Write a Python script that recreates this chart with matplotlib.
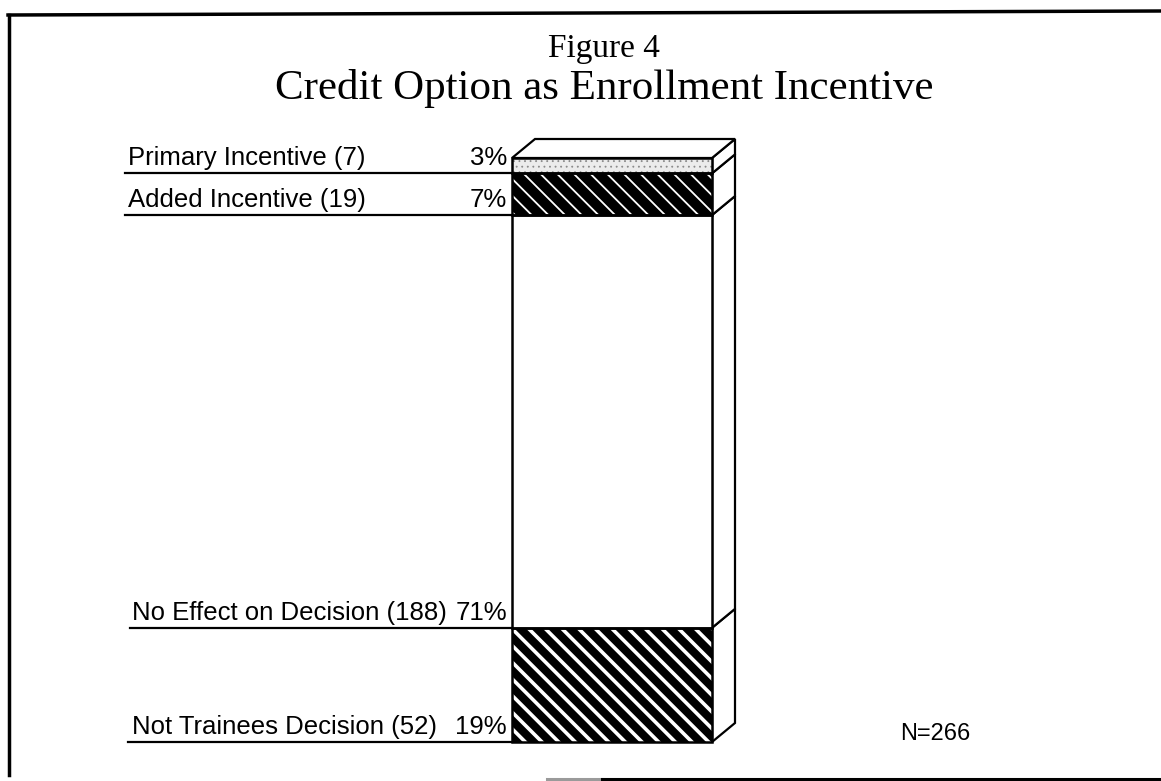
import matplotlib
matplotlib.use("Agg")
import matplotlib.pyplot as plt
from matplotlib import transforms
from matplotlib.patches import Polygon
from matplotlib.lines import Line2D

# ---- data ----
categories = ["Not Trainees Decision", "No Effect on Decision", "Added Incentive", "Primary Incentive"]
counts = [52, 188, 19, 7]
percents = [19, 71, 7, 3]
n_total = 266
title_top = "Figure 4"
title_main = "Credit Option as Enrollment Incentive"

# ---- styles (per segment, bottom to top) ----
faces = ["black", "white", "black", "#ececec"]
hatches = ["\\\\", None, "\\\\", "..."]
hatch_cols = ["white", "white", "white", "#8a8a8a"]
hatch_lws = [2.6, 1.0, 1.3, 0.6]

W, H, DPI = 1161, 781, 100
fig = plt.figure(figsize=(W / DPI, H / DPI), dpi=DPI)
fig.patch.set_facecolor("white")

# bar axes (front face of the bar fills it)
bx0, bx1, by_top, by_bot = 512, 712, 158, 742
ax = fig.add_axes([bx0 / W, (H - by_bot) / H, (bx1 - bx0) / W, (by_bot - by_top) / H])
ax.set_xlim(-0.5, 0.5)
ax.set_ylim(0, n_total)
ax.axis("off")

# depth of the 3-D look converted into data units
depth_px = (23, 19)
dx = depth_px[0] / (bx1 - bx0) * 1.0
dy = depth_px[1] / (by_bot - by_top) * n_total

bottoms = []
acc = 0
for c in counts:
    bottoms.append(acc)
    acc += c

lab_tr = transforms.blended_transform_factory(fig.transFigure, ax.transData)
lab_tr_up = transforms.offset_copy(lab_tr, fig=fig, x=0, y=8, units="dots")
label_x = [132 / W, 132 / W, 128 / W, 128 / W]
line_x0 = [128 / W, 130 / W, 125 / W, 125 / W]

for i, (cat, c, p, b) in enumerate(zip(categories, counts, percents, bottoms)):
    # hatch layer
    bars = ax.bar(0, c, bottom=b, width=1.0, color=faces[i], edgecolor=hatch_cols[i],
                  hatch=hatches[i], linewidth=0, clip_on=False, zorder=2)
    for r in bars:
        try:
            r.set_hatch_linewidth(hatch_lws[i])
        except Exception:
            pass
    # outline
    ax.bar(0, c, bottom=b, width=1.0, fill=False, edgecolor="black", linewidth=1.8,
           clip_on=False, zorder=3)
    # side face
    side = Polygon([(0.5, b), (0.5 + dx, b + dy), (0.5 + dx, b + c + dy), (0.5, b + c)],
                   closed=True, facecolor="white", edgecolor="black", linewidth=1.6,
                   clip_on=False, zorder=1)
    ax.add_patch(side)
    # label + percent
    ax.text(label_x[i], b, f"{cat} ({c})", transform=lab_tr_up, ha="left", va="baseline",
            fontsize=18.5, family="Liberation Sans", color="black")
    ax.text(507 / W, b, f"{p}%", transform=lab_tr_up, ha="right", va="baseline",
            fontsize=18.5, family="Liberation Sans", color="black")
    ax.add_line(Line2D([line_x0[i], bx0 / W], [b, b], transform=lab_tr, color="black",
                       linewidth=1.6, clip_on=False))

# top face
top = acc
ax.add_patch(Polygon([(-0.5, top), (-0.5 + dx, top + dy), (0.5 + dx, top + dy), (0.5, top)],
                     closed=True, facecolor="white", edgecolor="black", linewidth=1.6,
                     clip_on=False, zorder=1))

# N label
fig.text(900 / W, 1 - 740 / H, f"N={n_total}", ha="left", va="baseline", fontsize=17,
         family="Liberation Sans")

# titles
fig.text(604 / W, 1 - 57 / H, title_top, ha="center", va="baseline", fontsize=24,
         family="Liberation Serif")
fig.text(604 / W, 1 - 99 / H, title_main, ha="center", va="baseline", fontsize=31,
         family="Liberation Serif")

# frame lines
fig.add_artist(Line2D([8 / W, 1.0], [1 - 15 / H, 1 - 11 / H], transform=fig.transFigure,
                      color="black", linewidth=2.5))
fig.add_artist(Line2D([9 / W, 9 / W], [1 - 15 / H, 1 - 775 / H], transform=fig.transFigure,
                      color="black", linewidth=2.5))
fig.add_artist(Line2D([547 / W, 602 / W], [1 - 779 / H, 1 - 779 / H], transform=fig.transFigure,
                      color="#9a9a9a", linewidth=2.2))
fig.add_artist(Line2D([602 / W, 1.0], [1 - 779 / H, 1 - 779 / H], transform=fig.transFigure,
                      color="black", linewidth=2.2))

fig.savefig("out.png", dpi=DPI)
